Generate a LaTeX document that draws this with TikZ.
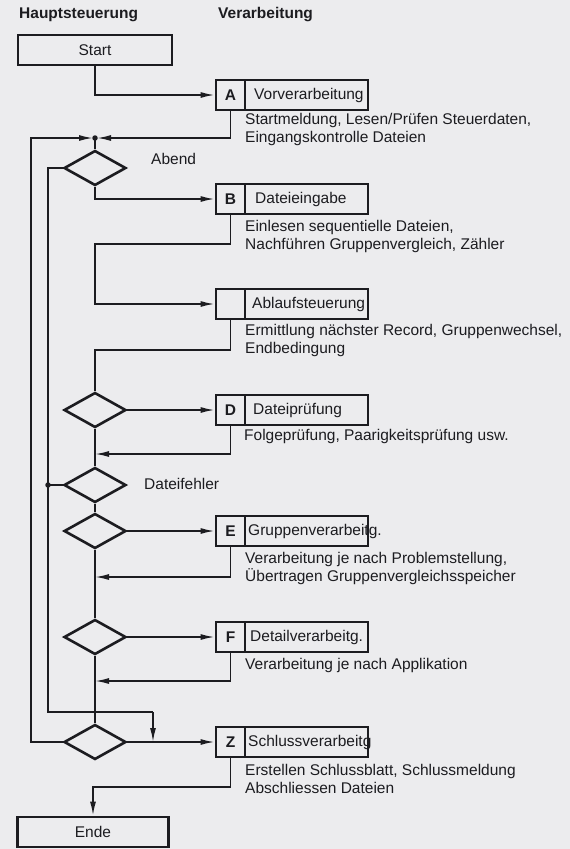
\documentclass[tikz,border=0pt]{standalone}
\usepackage{fontspec}
\setmainfont{Liberation Sans}
\usetikzlibrary{shapes.geometric,arrows.meta}
\definecolor{paper}{RGB}{236,236,238}
\definecolor{ink}{RGB}{28,28,32}
\begin{document}
\begin{tikzpicture}[x=1pt,y=-1pt,
  every node/.style={font=\fontsize{15.5}{18}\selectfont, text=ink},
  frame/.style={draw=ink,line width=2.9pt,inner sep=0pt,minimum height=30pt},
  letterbox/.style={frame,minimum width=29pt,font=\fontsize{15.5}{18}\selectfont\bfseries},
  titlebox/.style={frame,minimum width=123pt},
  titletext/.style={anchor=west,inner sep=0pt},
  dec/.style={diamond,draw=ink,line width=2.6pt,minimum width=62pt,minimum height=35pt,inner sep=0pt},
  conn/.style={draw=ink,line width=1.6pt},
  arr/.style={conn,-{Latex[length=14pt,width=6pt]}},
  desc/.style={anchor=west,align=left,inner sep=0pt},
  head/.style={anchor=west,inner sep=0pt,font=\fontsize{15.5}{18}\selectfont\bfseries},
  dot/.style={circle,fill=ink,inner sep=0pt,minimum size=5.5pt}
]
\fill[paper] (0,0) rectangle (570,849);
\useasboundingbox (0,0) rectangle (570,849);

% headings
\node[head] (h1) at (19,15) {Hauptsteuerung};
\node[head] (h2) at (218,15) {Verarbeitung};

% start / end
\node[frame,minimum width=154pt] (start) at (95,50) {Start};
\node[frame,minimum width=151pt] (ende) at (93,832) {Ende};

% processing boxes
\node[letterbox] (aL) at (230.5,95) {A};
\node[titlebox] (aT) at (306.5,95) {};
\node[titletext] (aX) at (254,95) {Vorverarbeitung};
\node[desc] (aD) at (245,129) {Startmeldung, Lesen/Prüfen Steuerdaten,\\Eingangskontrolle Dateien};

\node[letterbox] (bL) at (230.5,199) {B};
\node[titlebox] (bT) at (306.5,199) {};
\node[titletext] (bX) at (255,199) {Dateieingabe};
\node[desc] (bD) at (245,236) {Einlesen sequentielle Dateien,\\Nachführen Gruppenvergleich, Zähler};

\node[letterbox] (cL) at (230.5,304) {};
\node[titlebox] (cT) at (306.5,304) {};
\node[titletext] (cX) at (252,304) {Ablaufsteuerung};
\node[desc] (cD) at (245,340.5) {Ermittlung nächster Record, Gruppenwechsel,\\Endbedingung};

\node[letterbox] (dL) at (230.5,410) {D};
\node[titlebox] (dT) at (306.5,410) {};
\node[titletext] (dX) at (253,410) {Dateiprüfung};
\node[desc] (dD) at (244,436) {Folgeprüfung, Paarigkeitsprüfung usw.};

\node[letterbox] (eL) at (230.5,531) {E};
\node[titlebox] (eT) at (306.5,531) {};
\node[titletext] (eX) at (248,531) {Gruppenverarbeitg.};
\node[desc] (eD) at (245,568.5) {Verarbeitung je nach Problemstellung,\\Übertragen Gruppenvergleichsspeicher};

\node[letterbox] (fL) at (230.5,637) {F};
\node[titlebox] (fT) at (306.5,637) {};
\node[titletext] (fX) at (250,637) {Detailverarbeitg.};
\node[desc] (fD) at (245,665) {Verarbeitung je nach Applikation};

\node[letterbox] (zL) at (230.5,742) {Z};
\node[titlebox] (zT) at (306.5,742) {};
\node[titletext] (zX) at (248,742) {Schlussverarbeitg};
\node[desc] (zD) at (245,778.5) {Erstellen Schlussblatt, Schlussmeldung\\Abschliessen Dateien};

% decisions
\node[dec] (d1) at (95,168) {};
\node[dec] (dD1) at (95,410) {};
\node[dec] (dDF) at (95,485) {};
\node[dec] (dE1) at (95,531) {};
\node[dec] (dF1) at (95,637) {};
\node[dec] (dZ1) at (95,742) {};

\node[anchor=west,inner sep=0pt] (abend) at (151,159) {Abend};
\node[anchor=west,inner sep=0pt] (dfehl) at (144,484) {Dateifehler};

% coordinates
\coordinate (j1) at (95,138);
\coordinate (o1) at (31,138);
\coordinate (i1) at (48,712);
\coordinate (i2) at (153,712);
\coordinate (i3) at (153,742);
\coordinate (i4) at (48,485);
\coordinate (r1) at (95,244);
\coordinate (r2) at (95,350);
\coordinate (r3) at (95,454);
\coordinate (r4) at (95,577);
\coordinate (r5) at (95,681);
\coordinate (r6) at (93,787);

% connectors
\draw[arr] (start.south) |- (aL.west);
\draw[arr,shorten >=2pt] (aL.south) |- (j1);
\draw[arr,shorten >=2pt] (dZ1.west) -| (o1) -- (j1);
\draw[conn] (j1) -- (d1.north);
\node[dot] (jd1) at (j1) {};
\draw[arr] (d1.south) |- (bL.west);
\draw[conn] (d1.west) -| (i1) -- (i2);
\draw[arr] (i2) -- (i3);
\draw[arr] (bL.south) |- (r1) |- (cL.west);
\draw[conn] (cL.south) |- (r2) -- (dD1.north);
\draw[arr] (dD1.east) -- (dL.west);
\draw[arr] (dL.south) |- (r3);
\draw[conn] (dD1.south) -- (dDF.north);
\draw[conn] (dDF.west) -- (i4);
\node[dot] (jd2) at (i4) {};
\draw[conn] (dDF.south) -- (dE1.north);
\draw[arr] (dE1.east) -- (eL.west);
\draw[arr] (eL.south) |- (r4);
\draw[conn] (dE1.south) -- (dF1.north);
\draw[arr] (dF1.east) -- (fL.west);
\draw[arr] (fL.south) |- (r5);
\draw[conn] (dF1.south) -- (dZ1.north);
\draw[arr] (dZ1.east) -- (zL.west);
\draw[arr] (zL.south) |- (r6) -- (ende.north);
\end{tikzpicture}
\end{document}
